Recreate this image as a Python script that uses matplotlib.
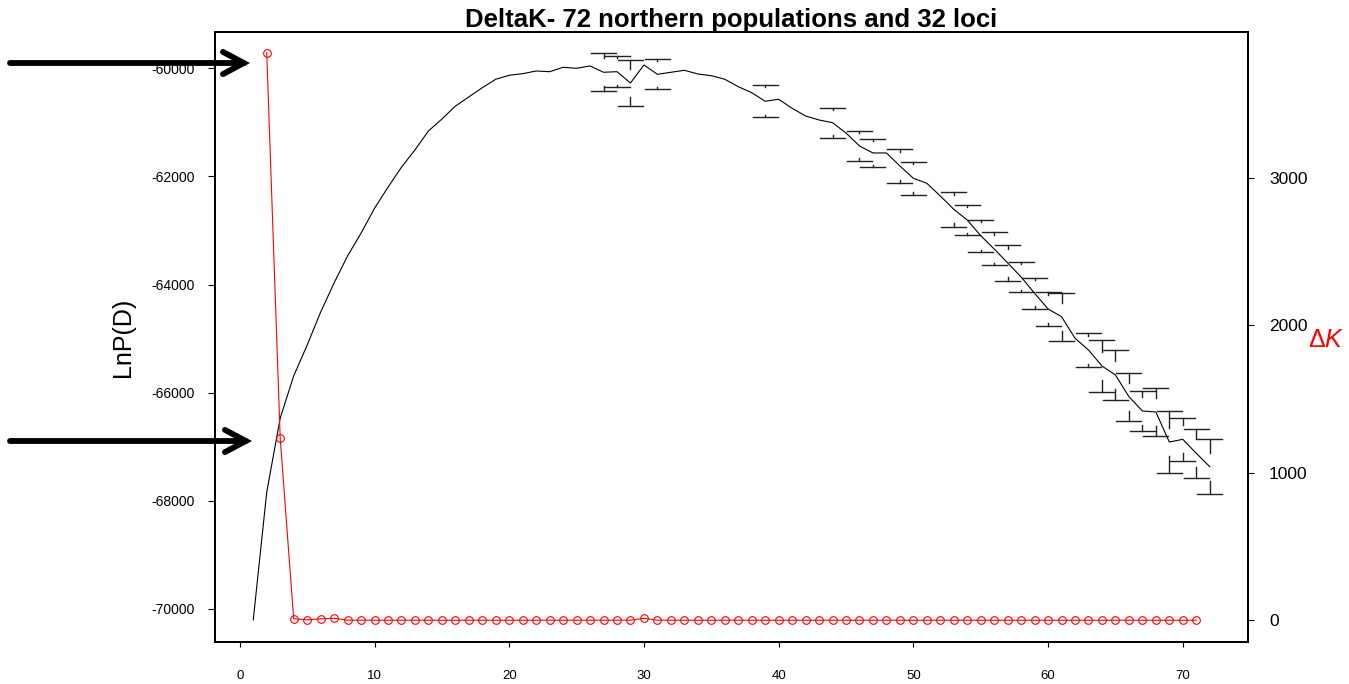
import matplotlib
matplotlib.use('Agg')
import matplotlib.pyplot as plt
from matplotlib.patches import FancyArrowPatch

plt.rcParams['font.family'] = ['Liberation Sans', 'DejaVu Sans']
plt.rcParams['axes.unicode_minus'] = False
plt.rcParams['mathtext.fontset'] = 'custom'
plt.rcParams['mathtext.rm'] = 'Liberation Sans'
plt.rcParams['mathtext.it'] = 'Liberation Sans:italic'

# mean LnP(D) for K = 1..72
k_vals = list(range(1, 73))
lnp_mean = [-70200, -67840, -66470, -65690, -65120, -64510, -63970, -63470, -63050, -62590,
            -62200, -61830, -61510, -61160, -60940, -60700, -60530, -60360, -60203, -60129,
            -60100, -60050, -60063, -59982, -60000, -59957, -60074, -60063, -60272, -59939,
            -60111, -60074, -60037, -60105, -60137, -60203, -60340, -60451, -60610, -60573,
            -60740, -60882, -60956, -61006, -61197, -61437, -61566, -61566, -61807, -62034,
            -62127, -62362, -62608, -62806, -63096, -63342, -63600, -63860, -64161, -64452,
            -64594, -64993, -65210, -65506, -65672, -66073, -66338, -66357, -66912, -66862,
            -67120, -67368]

# standard deviations (only K where a bar is drawn)
err_k = [27, 28, 29, 31, 39, 44, 46, 47, 49, 50, 53, 54, 55, 56, 57, 58, 59, 60, 61,
         63, 64, 65, 66, 67, 68, 69, 70, 71, 72]
err_sd = [351, 287, 425, 277, 300, 277, 271, 265, 308, 308, 329, 283, 296, 305, 327, 283,
          283, 320, 444, 308, 486, 456, 444, 370, 438, 573, 398, 456, 508]

# Delta K for K = 2..71
dk_k = list(range(2, 72))
dk_vals = [3849, 1236, 11, 3, 10, 14, 1, 1, 0.5, 0.8,
           0.6, 1, 0.7, 0.5, 0.4, 0.8, 0.6, 0.5, 0.3, 0.6,
           0.4, 0.9, 0.5, 0.7, 0.8, 1, 1.2, 0.9, 14, 1,
           0.6, 0.5, 0.4, 0.5, 0.7, 0.9, 0.5, 0.6, 0.4, 0.7,
           0.3, 0.5, 0.8, 0.4, 0.6, 0.5, 0.7, 0.4, 0.3, 0.6,
           0.5, 0.4, 0.7, 0.5, 0.4, 0.6, 0.3, 0.5, 0.4, 0.6,
           0.5, 0.3, 0.4, 0.6, 0.5, 0.4, 0.3, 0.5, 0.4, 0.3]

W, H = 1349, 684
fig = plt.figure(figsize=(W / 100, H / 100), dpi=100)
ax = fig.add_axes([215 / W, 1 - 642.3 / H, (1248 - 215) / W, (642.3 - 32) / H])

ax.plot(k_vals, lnp_mean, color='black', lw=0.8, zorder=3)

# error bars: caps at mean +- sd with short stems pointing inward
gap = 259
for k, sd in zip(err_k, err_sd):
    m = lnp_mean[k - 1]
    stem = max(sd - gap, 40)
    for sign in (1, -1):
        yc = m + sign * sd
        ax.plot([k - 0.93, k + 0.93], [yc, yc], color='#222222', lw=1.0, zorder=2)
        ax.plot([k, k], [yc, yc - sign * stem], color='#222222', lw=1.0, zorder=2)

ax.set_xlim(-1.84, 74.84)
ax.set_ylim(-70616, -59329)
ax.set_xticks(range(0, 71, 10))
ax.set_yticks(range(-70000, -59999, 2000))
ax.tick_params(axis='x', length=3.6, width=0.8, pad=16.5, labelsize=9.5)
ax.tick_params(axis='y', length=5, width=0.8, pad=9.4, labelsize=10)
for s in ax.spines.values():
    s.set_linewidth(1.4)

ax2 = ax.twinx()
ax2.plot(dk_k, dk_vals, color='red', lw=0.8, marker='o', markersize=5.5,
         markerfacecolor='none', markeredgecolor='red', markeredgewidth=0.8, zorder=4)
ax2.set_ylim(-149, 3989)
ax2.set_yticks([0, 1000, 2000, 3000])
ax2.tick_params(axis='y', length=4.3, width=0.8, pad=10.8, labelsize=12.5)
for s in ax2.spines.values():
    s.set_linewidth(1.4)

ax.set_title('DeltaK- 72 northern populations and 32 loci', fontsize=18.5,
             fontweight='bold', pad=3.6)

fig.text(123 / W, 1 - 337 / H, 'LnP(D)', rotation=90, ha='center', va='center', fontsize=18)
fig.text(1326 / W, 1 - 340 / H, r'$\Delta K$', color='red', ha='center', va='center',
         fontsize=18)

# the two pointer arrows on the left
for y_img, x_tip in [(63, 250), (441, 252)]:
    arr = FancyArrowPatch((10 / W, 1 - y_img / H), (x_tip / W, 1 - y_img / H),
                          transform=fig.transFigure,
                          arrowstyle='->,head_length=1.5,head_width=0.8',
                          mutation_scale=10, lw=4.2, color='black', capstyle='round',
                          joinstyle='miter', shrinkA=0, shrinkB=0)
    fig.add_artist(arr)

fig.savefig('out.png', dpi=100)
